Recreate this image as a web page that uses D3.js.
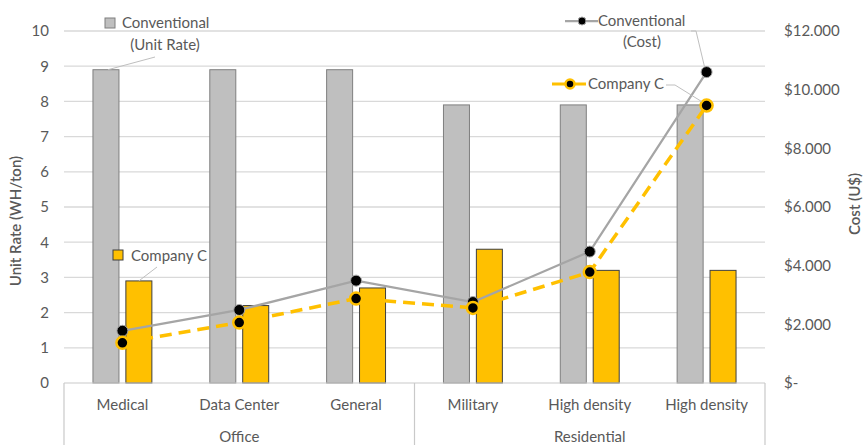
<!DOCTYPE html>
<html>
<head>
<meta charset="utf-8">
<script src="https://cdn.jsdelivr.net/npm/d3@7"></script>
<style>
  html, body { margin: 0; padding: 0; background: #fff; }
  svg { display: block; font-family: Lato, "Open Sans", sans-serif; }
  text { fill: #595959; }
</style>
</head>
<body>
<svg id="chart" width="866" height="445"></svg>
<script>
// Categories and their parent groups
const categories = ["Medical", "Data Center", "General", "Military", "High density", "High density"];
const groups = ["Office", "Office", "Office", "Residential", "Residential", "Residential"];

// Unit rate (WH/ton), left axis
const convRate = [8.9, 8.9, 8.9, 7.9, 7.9, 7.9];
const compRate = [2.9, 2.2, 2.7, 3.8, 3.2, 3.2];

// Cost (U$), right axis
const convCost = [1780, 2490, 3490, 2760, 4480, 10600];
const compCost = [1370, 2060, 2880, 2560, 3780, 9460];

// Tick values
const rateTicks = [0, 1, 2, 3, 4, 5, 6, 7, 8, 9, 10];
const costTicks = [0, 2000, 4000, 6000, 8000, 10000, 12000];

const FS = 15;
const svg = d3.select("#chart");
const X0 = 64, X1 = 765, YTOP = 31, YBOT = 383;

const x = d3.scaleBand().domain(d3.range(categories.length)).range([X0, X1]);
const bw = x.bandwidth();
const xSub = d3.scaleBand().domain(["conv", "comp"]).range([0, bw])
  .paddingInner(0.21).paddingOuter(0.88);
const yL = d3.scaleLinear().domain([0, 10]).range([YBOT, YTOP]);
const yR = d3.scaleLinear().domain([0, 12000]).range([YBOT, YTOP]);

const GRAY = "#BFBFBF", GRAY_EDGE = "#7F7F7F", LINE_GRAY = "#A5A5A5", GOLD = "#FFC000";

// Gridlines
svg.append("g").selectAll("line").data(rateTicks.filter(d => d > 0)).join("line")
  .attr("x1", X0).attr("x2", X1)
  .attr("y1", d => yL(d)).attr("y2", d => yL(d))
  .attr("stroke", "#D9D9D9").attr("stroke-width", 1.3);

// Left axis labels
const leftAxis = d3.axisLeft(yL).tickValues(rateTicks).tickSize(0).tickPadding(15);
svg.append("g").attr("transform", `translate(${X0},0)`).call(leftAxis)
  .call(g => g.select(".domain").remove())
  .call(g => g.selectAll("text").attr("font-size", FS).attr("fill", "#595959")
    .attr("font-family", "Lato, 'Open Sans', sans-serif"));

// Right axis labels
const costFmt = v => v === 0 ? "$-" : "$" + d3.format(",")(v).replace(/,/g, ".");
const rightAxis = d3.axisRight(yR).tickValues(costTicks).tickSize(0).tickPadding(19).tickFormat(costFmt);
svg.append("g").attr("transform", `translate(${X1},0)`).call(rightAxis)
  .call(g => g.select(".domain").remove())
  .call(g => g.selectAll("text").attr("font-size", FS).attr("fill", "#595959")
    .attr("font-family", "Lato, 'Open Sans', sans-serif"));

// Axis titles
svg.append("text").attr("transform", "translate(21,221) rotate(-90)")
  .attr("text-anchor", "middle").attr("font-size", FS).attr("font-weight", 600).text("Unit Rate (WH/ton)");
svg.append("text").attr("transform", "translate(860,204) rotate(-90)")
  .attr("text-anchor", "middle").attr("font-size", FS).attr("font-weight", 600).text("Cost (U$)");

// Bars
const barG = svg.append("g");
barG.selectAll("rect.conv").data(convRate).join("rect").attr("class", "conv")
  .attr("x", (d, i) => x(i) + xSub("conv")).attr("width", xSub.bandwidth())
  .attr("y", d => yL(d)).attr("height", d => yL(0) - yL(d))
  .attr("fill", GRAY).attr("stroke", GRAY_EDGE).attr("stroke-width", 1);
barG.selectAll("rect.comp").data(compRate).join("rect").attr("class", "comp")
  .attr("x", (d, i) => x(i) + xSub("comp")).attr("width", xSub.bandwidth())
  .attr("y", d => yL(d)).attr("height", d => yL(0) - yL(d))
  .attr("fill", GOLD).attr("stroke", "#3F3F3F").attr("stroke-width", 1);

// Category axis table
const axG = svg.append("g").attr("stroke", "#C9C9C9").attr("stroke-width", 1.2);
axG.append("line").attr("x1", X0).attr("x2", X1).attr("y1", YBOT).attr("y2", YBOT);
const groupNames = Array.from(new Set(groups));
const groupSpans = groupNames.map(g => {
  const idx = groups.map((v, i) => v === g ? i : -1).filter(i => i >= 0);
  return { name: g, x0: x(idx[0]), x1: x(idx[idx.length - 1]) + bw };
});
const dividers = [X0].concat(groupSpans.map(s => s.x1));
axG.selectAll("line.div").data(dividers).join("line").attr("class", "div")
  .attr("x1", d => d).attr("x2", d => d).attr("y1", YBOT).attr("y2", 445);

svg.append("g").selectAll("text").data(categories).join("text")
  .attr("x", (d, i) => x(i) + bw / 2).attr("y", 410)
  .attr("text-anchor", "middle").attr("font-size", FS).text(d => d);
svg.append("g").selectAll("text").data(groupSpans).join("text")
  .attr("x", d => (d.x0 + d.x1) / 2).attr("y", 442)
  .attr("text-anchor", "middle").attr("font-size", FS).text(d => d.name);

// Cost lines
const cx = i => x(i) + bw / 2;
const line = d3.line().x((d, i) => cx(i)).y(d => yR(d));
svg.append("path").datum(convCost).attr("d", line)
  .attr("fill", "none").attr("stroke", LINE_GRAY).attr("stroke-width", 2.25);
svg.append("path").datum(compCost).attr("d", line)
  .attr("fill", "none").attr("stroke", GOLD).attr("stroke-width", 3.5)
  .attr("stroke-dasharray", "12,7");

svg.append("g").selectAll("circle").data(convCost).join("circle")
  .attr("cx", (d, i) => cx(i)).attr("cy", d => yR(d)).attr("r", 5.5)
  .attr("fill", "#000").attr("stroke", LINE_GRAY).attr("stroke-width", 1);
svg.append("g").selectAll("circle").data(compCost).join("circle")
  .attr("cx", (d, i) => cx(i)).attr("cy", d => yR(d)).attr("r", 6)
  .attr("fill", "#000").attr("stroke", GOLD).attr("stroke-width", 2.5);

// Series labels with leader lines
const lab = svg.append("g").attr("font-size", FS);
// Conventional (Unit Rate)
lab.append("line").attr("x1", 155).attr("y1", 57)
  .attr("x2", x(0) + xSub("conv") + xSub.bandwidth() / 2 + 2).attr("y2", yL(convRate[0]))
  .attr("stroke", GRAY).attr("stroke-width", 1);
lab.append("rect").attr("x", 105).attr("y", 18).attr("width", 10).attr("height", 10)
  .attr("fill", GRAY).attr("stroke", GRAY_EDGE).attr("stroke-width", 1);
lab.append("text").attr("x", 122).attr("y", 28).text("Conventional");
lab.append("text").attr("x", 165).attr("y", 50).attr("text-anchor", "middle").text("(Unit Rate)");

// Company C (Unit Rate)
lab.append("line").attr("x1", 157).attr("y1", 267)
  .attr("x2", x(0) + xSub("comp") + xSub.bandwidth() / 2).attr("y2", yL(compRate[0]))
  .attr("stroke", GRAY).attr("stroke-width", 1);
lab.append("rect").attr("x", 113).attr("y", 250).attr("width", 10).attr("height", 10)
  .attr("fill", GOLD).attr("stroke", "#3F3F3F").attr("stroke-width", 1);
lab.append("text").attr("x", 131).attr("y", 261).text("Company C");

// Conventional (Cost)
lab.append("polyline")
  .attr("points", `691,31 696,31 ${cx(5) - 2},${yR(convCost[5]) - 5}`)
  .attr("fill", "none").attr("stroke", GRAY).attr("stroke-width", 1);
lab.append("line").attr("x1", 565).attr("x2", 598).attr("y1", 21).attr("y2", 21)
  .attr("stroke", LINE_GRAY).attr("stroke-width", 2.25);
lab.append("circle").attr("cx", 582).attr("cy", 21).attr("r", 4)
  .attr("fill", "#000").attr("stroke", LINE_GRAY).attr("stroke-width", 1);
lab.append("text").attr("x", 598).attr("y", 26).text("Conventional");
lab.append("text").attr("x", 642).attr("y", 47).attr("text-anchor", "middle").text("(Cost)");

// Company C (Cost)
lab.append("polyline")
  .attr("points", `666,85 675,85 ${cx(5) - 5},${yR(compCost[5]) - 4}`)
  .attr("fill", "none").attr("stroke", GRAY).attr("stroke-width", 1);
lab.append("line").attr("x1", 552).attr("x2", 586).attr("y1", 84).attr("y2", 84)
  .attr("stroke", GOLD).attr("stroke-width", 3);
lab.append("circle").attr("cx", 570).attr("cy", 84).attr("r", 4.5)
  .attr("fill", "#000").attr("stroke", GOLD).attr("stroke-width", 2.5);
lab.append("text").attr("x", 588).attr("y", 89).text("Company C");
</script>
</body>
</html>
